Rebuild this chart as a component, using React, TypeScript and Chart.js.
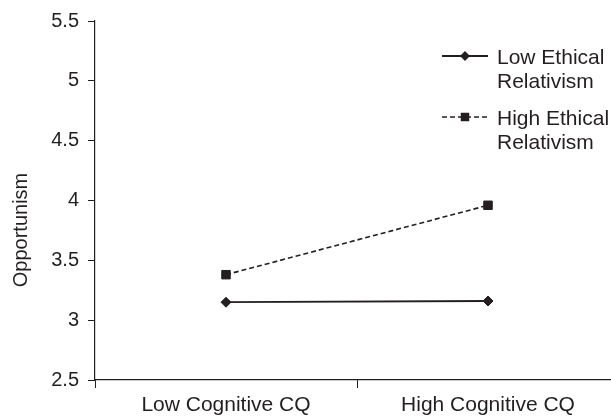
import React, { useEffect, useRef } from 'react';
import { Chart, registerables } from 'chart.js';

Chart.register(...registerables);

const categories = ['Low Cognitive CQ', 'High Cognitive CQ'];
const lowEthicalRelativism = [3.15, 3.16];
const highEthicalRelativism = [3.38, 3.96];
const seriesNames = ['Low Ethical Relativism', 'High Ethical Relativism'];
const legendLines = [
  ['Low Ethical', 'Relativism'],
  ['High Ethical', 'Relativism'],
];
const yTickValues = [2.5, 3, 3.5, 4, 4.5, 5, 5.5];
const yAxisTitle = 'Opportunism';

const INK = '#231f20';
const FONT_FAMILY = "'Liberation Sans', Arial, Helvetica, sans-serif";
const LABEL_SIZE = 21;
const TICK_SIZE = 20;

const overlayPlugin = {
  id: 'overlay',
  afterDraw(chart: any) {
    const ctx: CanvasRenderingContext2D = chart.ctx;
    // Y axis title
    ctx.save();
    ctx.fillStyle = INK;
    ctx.font = `${TICK_SIZE}px ${FONT_FAMILY}`;
    ctx.translate(27, 230);
    ctx.rotate(-Math.PI / 2);
    ctx.textAlign = 'center';
    ctx.textBaseline = 'alphabetic';
    ctx.fillText(yAxisTitle, 0, 0);
    ctx.restore();

    // Legend
    const rows = [
      { cy: 56, baselines: [64, 88] },
      { cy: 117, baselines: [125, 149] },
    ];
    chart.data.datasets.forEach((ds: any, i: number) => {
      const r = rows[i];
      if (!r) return;
      ctx.save();
      ctx.strokeStyle = INK;
      ctx.fillStyle = INK;
      ctx.lineWidth = ds.borderWidth;
      ctx.setLineDash(ds.borderDash || []);
      ctx.beginPath();
      ctx.moveTo(442, r.cy);
      ctx.lineTo(488, r.cy);
      ctx.stroke();
      ctx.setLineDash([]);
      const mx = 465;
      if (ds.pointStyle === 'rectRot') {
        const rr = ds.pointRadius;
        ctx.beginPath();
        ctx.moveTo(mx, r.cy - rr);
        ctx.lineTo(mx + rr, r.cy);
        ctx.lineTo(mx, r.cy + rr);
        ctx.lineTo(mx - rr, r.cy);
        ctx.closePath();
        ctx.fill();
      } else {
        const hs = ds.pointRadius * Math.SQRT1_2;
        ctx.fillRect(mx - hs, r.cy - hs, hs * 2, hs * 2);
      }
      ctx.font = `${LABEL_SIZE}px ${FONT_FAMILY}`;
      ctx.textAlign = 'left';
      ctx.textBaseline = 'alphabetic';
      legendLines[i].forEach((line, j) => {
        ctx.fillText(line, 497, r.baselines[j]);
      });
      ctx.restore();
    });
  },
};

export default function App() {
  const canvasRef = useRef<HTMLCanvasElement | null>(null);

  useEffect(() => {
    if (!canvasRef.current) return;
    const chart = new Chart(canvasRef.current, {
      type: 'line',
      data: {
        labels: categories,
        datasets: [
          {
            label: seriesNames[0],
            data: lowEthicalRelativism,
            borderColor: INK,
            backgroundColor: INK,
            borderWidth: 1.8,
            pointStyle: 'rectRot',
            pointRadius: 5,
            pointBorderWidth: 1,
            pointBackgroundColor: INK,
            pointBorderColor: INK,
            fill: false,
            tension: 0,
          },
          {
            label: seriesNames[1],
            data: highEthicalRelativism,
            borderColor: INK,
            backgroundColor: INK,
            borderWidth: 1.6,
            borderDash: [5, 3],
            pointStyle: 'rect',
            pointRadius: 6,
            pointBorderWidth: 1,
            pointBackgroundColor: INK,
            pointBorderColor: INK,
            fill: false,
            tension: 0,
          },
        ],
      },
      options: {
        responsive: false,
        animation: false,
        devicePixelRatio: 1,
        layout: { padding: { left: 0, right: 21, top: 17, bottom: 0 } },
        plugins: {
          legend: { display: false },
          tooltip: { enabled: false },
          title: { display: false },
        },
        scales: {
          x: {
            type: 'category',
            offset: true,
            grid: {
              offset: true,
              drawOnChartArea: false,
              drawTicks: true,
              tickLength: 8,
              color: INK,
              lineWidth: 1,
            },
            border: { display: true, color: INK, width: 1.2 },
            ticks: {
              color: INK,
              padding: 5,
              font: { family: FONT_FAMILY, size: LABEL_SIZE },
              maxRotation: 0,
            },
            afterFit: (scale: any) => {
              scale.height = 40;
            },
          },
          y: {
            type: 'linear',
            min: 2.5,
            max: 5.5,
            grid: {
              drawOnChartArea: false,
              drawTicks: true,
              tickLength: 7,
              color: INK,
              lineWidth: 1,
            },
            border: { display: true, color: INK, width: 1.2 },
            ticks: {
              color: INK,
              padding: 9,
              font: { family: FONT_FAMILY, size: TICK_SIZE },
              callback: (v: any) => String(Number(v)),
            },
            afterBuildTicks: (scale: any) => {
              scale.ticks = yTickValues.map((v) => ({ value: v }));
            },
            afterFit: (scale: any) => {
              scale.width = 95;
            },
          },
        },
      },
      plugins: [overlayPlugin],
    });
    return () => chart.destroy();
  }, []);

  return (
    <div
      style={{
        position: 'fixed',
        left: 0,
        top: 0,
        width: 611,
        height: 420,
        overflow: 'hidden',
        background: '#ffffff',
      }}
    >
      <canvas ref={canvasRef} width={640} height={420} style={{ display: 'block' }} />
    </div>
  );
}
